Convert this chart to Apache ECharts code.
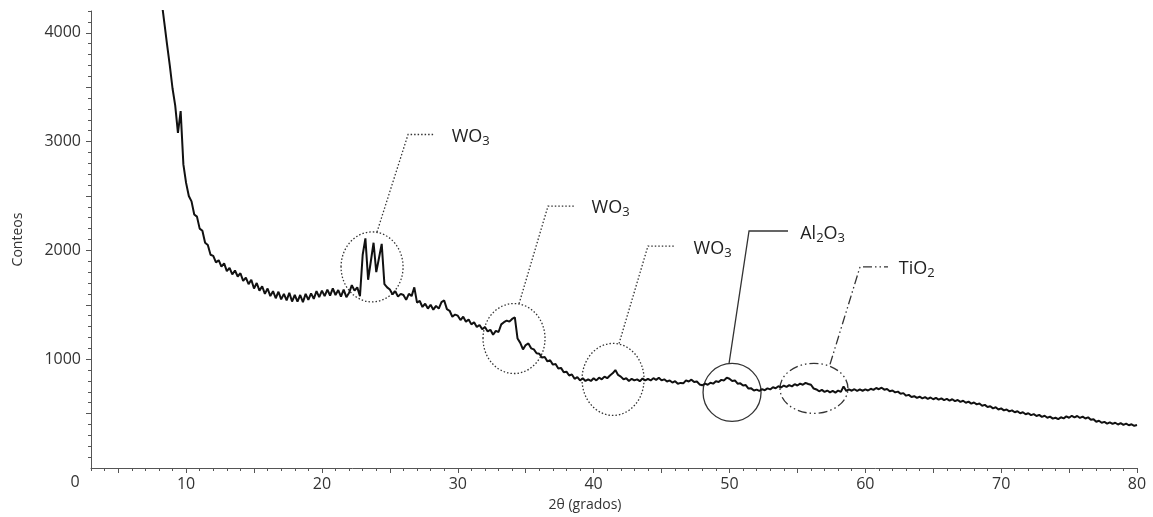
<!DOCTYPE html>
<html>
<head>
<meta charset="utf-8">
<script src="https://cdn.jsdelivr.net/npm/echarts@6.0.0/dist/echarts.min.js"></script>
<style>
  html, body { margin: 0; padding: 0; background: #fff; }
  #chart { width: 1153px; height: 517px; }
</style>
</head>
<body>
<div id="chart"></div>
<script>
// 2θ grid of the scan (degrees)
var thetaStart = 8.0
var thetaStep = 0.2

// counts, one row per 2 degrees
var counts = [
  4480, 4290, 4090, 3890, 3700, 3490, 3330, 3080, 3280, 2790, // 8
  2620, 2500, 2450, 2330, 2310, 2200, 2180, 2070, 2050, 1960, // 10
  1950, 1890, 1910, 1850, 1880, 1810, 1840, 1780, 1815, 1760, // 12
  1790, 1720, 1750, 1690, 1730, 1650, 1700, 1630, 1670, 1600, // 14
  1650, 1580, 1625, 1560, 1620, 1550, 1600, 1540, 1610, 1530, // 16
  1590, 1530, 1590, 1525, 1600, 1545, 1605, 1555, 1625, 1570, // 18
  1630, 1580, 1640, 1585, 1650, 1590, 1635, 1575, 1640, 1570, // 20
  1610, 1680, 1630, 1660, 1580, 1960, 2110, 1730, 1900, 2070, // 22
  1800, 1930, 2060, 1690, 1660, 1640, 1595, 1625, 1575, 1600, // 24
  1590, 1545, 1600, 1580, 1660, 1520, 1535, 1480, 1510, 1465, // 26
  1500, 1455, 1490, 1465, 1525, 1540, 1460, 1445, 1390, 1410, // 28
  1400, 1360, 1390, 1345, 1365, 1320, 1340, 1295, 1315, 1275, // 30
  1295, 1255, 1270, 1225, 1260, 1250, 1320, 1340, 1355, 1345, // 32
  1370, 1385, 1190, 1150, 1090, 1130, 1145, 1100, 1090, 1055, // 34
  1050, 1015, 1020, 980, 990, 950, 955, 915, 920, 880,        // 36
  885, 850, 860, 820, 835, 805, 825, 800, 815, 800,           // 38
  825, 805, 830, 815, 840, 825, 850, 870, 900, 855,           // 40
  840, 815, 825, 800, 820, 805, 815, 798, 822, 805,           // 42
  820, 805, 825, 810, 830, 805, 815, 795, 805, 785,           // 44
  798, 775, 782, 778, 805, 795, 812, 790, 795, 768,           // 46
  760, 775, 765, 783, 775, 798, 790, 810, 805, 830,           // 48
  820, 800, 805, 775, 778, 758, 762, 730, 732, 712,           // 50
  720, 708, 725, 715, 732, 722, 742, 733, 752, 740,           // 52
  758, 745, 762, 750, 770, 758, 775, 765, 782, 772,           // 54
  765, 730, 722, 705, 718, 700, 712, 695, 708, 693,           // 56
  712, 700, 750, 708, 722, 710, 724, 708, 722, 710,           // 58
  722, 712, 728, 718, 735, 724, 738, 720, 726, 706,           // 60
  712, 695, 702, 682, 688, 665, 672, 652, 660, 644,           // 62
  655, 640, 652, 636, 648, 632, 644, 628, 640, 624,           // 64
  635, 620, 632, 615, 625, 608, 618, 600, 610, 592,           // 66
  602, 585, 592, 572, 580, 560, 568, 548, 558, 538,           // 68
  548, 530, 538, 520, 530, 512, 522, 503, 512, 494,           // 70
  503, 486, 495, 478, 488, 470, 480, 462, 472, 454,           // 72
  462, 450, 466, 456, 474, 462, 480, 466, 478, 460,           // 74
  472, 455, 466, 443, 448, 425, 434, 416, 424, 408,           // 76
  420, 405, 416, 400, 412, 397, 408, 393, 402, 388,           // 78
  395                                                         // 80
]

// axis ticks and labels
var xLabelValues = [10, 20, 30, 40, 50, 60, 70, 80]
var xMajorTicks = [5, 10, 15, 20, 25, 30, 35, 40, 45, 50, 55, 60, 65, 70, 75, 80]
var yLabelValues = [1000, 2000, 3000, 4000]
var yMajorTicks = [500, 1000, 1500, 2000, 2500, 3000, 3500, 4000]

var xMinorTicks = []
for (var t = 3; t <= 80; t++) xMinorTicks.push(t)
var yMinorTicks = []
for (var v = 100; v <= 4200; v += 100) yMinorTicks.push(v)

// phase annotations (data coordinates)
var annoNames = ['WO{s|3}', 'WO{s|3}', 'WO{s|3}', 'Al{s|2}O{s|3}', 'TiO{s|2}']
var annoCenter = [[23.69, 1848], [34.14, 1190], [41.43, 814], [50.19, 695], [56.22, 732]]
var annoLeader = [
  [[24.05, 2168], [26.34, 3065], [28.25, 3065]],
  [[34.51, 1510], [36.64, 2406], [38.63, 2406]],
  [[41.87, 1144], [44.00, 2040], [45.99, 2040]],
  [[49.97, 961], [51.44, 2178], [54.31, 2178]],
  [[57.40, 952], [59.61, 1848], [61.67, 1848]]
]
var annoLabelAt = [[29.55, 3047], [39.85, 2388], [47.36, 2013], [55.21, 2150], [62.46, 1830]]
var annoRadius = [[31, 35], [31, 35], [31, 36], [29, 29], [34, 25]]
var annoLine = ['dot', 'dot', 'dot', 'solid', 'dashdot']

var theta = counts.map(function(_, i) { return +(thetaStart + i * thetaStep).toFixed(1) })

var chart = echarts.init(document.getElementById('chart'))
var axisColor = '#555'
var textColor = '#333'
var font = 'Open Sans'

chart.setOption({
  animation: false,
  backgroundColor: '#fff',
  grid: { left: 91, right: 16, top: 11, bottom: 47, containLabel: false },
  xAxis: [
    {
      type: 'value',
      min: 3,
      max: 80,
      position: 'bottom',
      name: '2θ (grados)',
      nameLocation: 'middle',
      nameGap: 30,
      nameTextStyle: { color: textColor, fontSize: 14, fontFamily: font, padding: [0, 58, 0, 0] },
      axisLine: { show: true, onZero: false, lineStyle: { color: axisColor, width: 1 } },
      axisTick: { show: true, customValues: xMajorTicks, length: 5, lineStyle: { color: axisColor } },
      axisLabel: {
        customValues: xLabelValues, margin: 8, color: textColor, fontSize: 16, fontFamily: font,
        formatter: function(v) { return String(v) }
      },
      splitLine: { show: false }
    },
    {
      type: 'value',
      min: 3,
      max: 80,
      position: 'bottom',
      axisLine: { show: false },
      axisTick: { show: true, customValues: xMinorTicks, length: 3, lineStyle: { color: axisColor } },
      axisLabel: { show: false },
      splitLine: { show: false }
    }
  ],
  yAxis: [
    {
      type: 'value',
      min: 0,
      max: 4200,
      position: 'left',
      name: 'Conteos',
      nameLocation: 'middle',
      nameGap: 66,
      nameTextStyle: { color: textColor, fontSize: 14, fontFamily: font },
      axisLine: { show: true, onZero: false, lineStyle: { color: axisColor, width: 1 } },
      axisTick: { show: true, customValues: yMajorTicks, length: 5, lineStyle: { color: axisColor } },
      axisLabel: {
        customValues: yLabelValues, margin: 10, color: textColor, fontSize: 16, fontFamily: font,
        formatter: function(v) { return String(v) }
      },
      splitLine: { show: false }
    },
    {
      type: 'value',
      min: 0,
      max: 4200,
      position: 'left',
      axisLine: { show: false },
      axisTick: { show: true, customValues: yMinorTicks, length: 3, lineStyle: { color: axisColor } },
      axisLabel: { show: false },
      splitLine: { show: false }
    }
  ],
  series: [
    {
      type: 'line',
      xAxisIndex: 0,
      yAxisIndex: 0,
      data: theta.map(function(t, i) { return [t, counts[i]] }),
      showSymbol: false,
      clip: true,
      lineStyle: { color: '#111', width: 2 }
    }
  ]
})

function px(p) {
  return chart.convertToPixel({ xAxisIndex: 0, yAxisIndex: 0 }, p)
}

var dashes = {
  dot: [1.5, 2],
  solid: null,
  dashdot: [9, 3, 1.5, 3, 1.5, 3]
}

var graphics = []
annoNames.forEach(function(name, i) {
  var c = px(annoCenter[i])
  var style = { fill: 'none', stroke: '#333', lineWidth: 1.3, lineDash: dashes[annoLine[i]] }
  graphics.push({
    type: 'ellipse',
    shape: { cx: c[0], cy: c[1], rx: annoRadius[i][0], ry: annoRadius[i][1] },
    style: style,
    silent: true
  })
  graphics.push({
    type: 'polyline',
    shape: { points: annoLeader[i].map(px) },
    style: style,
    silent: true
  })
  var l = px(annoLabelAt[i])
  graphics.push({
    type: 'text',
    x: l[0],
    y: l[1],
    style: {
      text: '{n|' + name.replace(/\{s\|(\d)\}/g, '}{s|$1}{n|') + '}',
      align: 'left',
      verticalAlign: 'middle',
      fill: '#222',
      rich: {
        n: { fontSize: 18, fontFamily: font, fill: '#222', lineHeight: 22 },
        s: { fontSize: 13, fontFamily: font, fill: '#222', lineHeight: 15, verticalAlign: 'bottom' }
      }
    },
    silent: true
  })
})

// origin label
var o = px([3, 0])
graphics.push({
  type: 'text',
  x: o[0] - 16,
  y: o[1] + 14,
  style: { text: '0', align: 'center', verticalAlign: 'middle', fill: textColor, fontSize: 16, fontFamily: font },
  silent: true
})

chart.setOption({ graphic: graphics })
</script>
</body>
</html>
